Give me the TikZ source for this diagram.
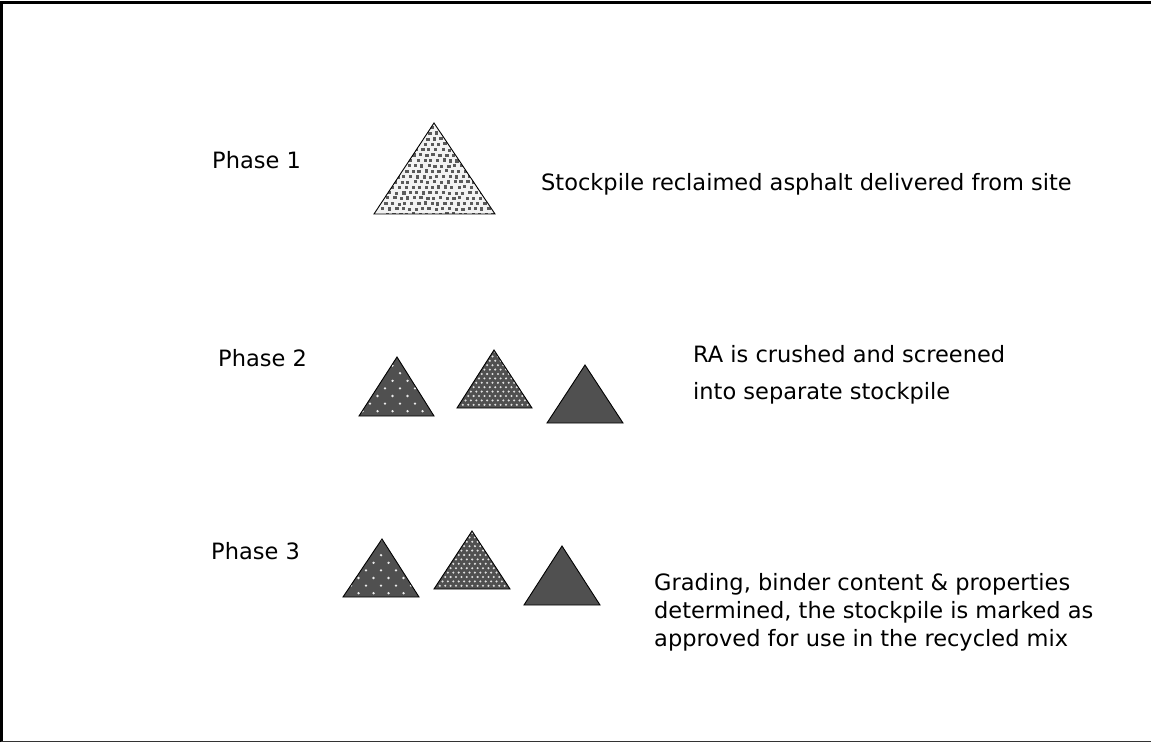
\documentclass[tikz,border=0pt]{standalone}
\usepackage{fontspec}
\setmainfont{DejaVu Sans}
\definecolor{pile}{HTML}{505050}
\definecolor{speck}{HTML}{5A5A5A}
\tikzset{
  lbl/.style={anchor=base west, inner sep=0pt, font=\fontsize{22.5}{28}\selectfont},
  pileedge/.style={draw=black, line width=0.9pt},
  sparsedot/.style={fill=white!92!black},
  densedot/.style={fill=white!88!black},
}
\begin{document}
\begin{tikzpicture}[x=1pt,y=-1pt]
\useasboundingbox (0,0) rectangle (1151,743);
% frame
\draw[line width=2.6pt] (1.3,742) -- (1.3,2.3) -- (1160,2.3);
\draw[line width=1.6pt, draw=black!80] (1.3,741.5) -- (1160,741.5);

% ---------- Phase 1 pile ----------
\coordinate (p1a) at (434,123); \coordinate (p1l) at (374,214); \coordinate (p1r) at (495,214);
\begin{scope}
\clip (p1a) -- (p1l) -- (p1r) -- cycle;
\fill[white!95!black] (370,120) rectangle (500,216);
\pgfmathsetseed{7}
\foreach \r in {0,...,17}{
  \foreach \c in {0,...,20}{
    \pgfmathsetmacro{\xx}{367+\c*6.6+mod(\r,2)*3.3+0.9*\r+rand*0.8}
    \pgfmathsetmacro{\yy}{121+\r*5.4+rand*0.6}
    \fill[speck] (\xx,\yy) rectangle ++(3.3,3.2);
  }
}
\end{scope}
\draw[pileedge] (p1a) -- (p1l) -- (p1r) -- cycle;

% ---------- Phase 2 piles ----------
\coordinate (q1a) at (397,357); \coordinate (q1l) at (359,416); \coordinate (q1r) at (434,416);
\coordinate (q2a) at (494,350); \coordinate (q2l) at (457,408); \coordinate (q2r) at (532,408);
\coordinate (q3a) at (585,365); \coordinate (q3l) at (547,423); \coordinate (q3r) at (623,423);
% sparse dots
\begin{scope}
\clip (q1a) -- (q1l) -- (q1r) -- cycle;
\fill[pile] (355,350) rectangle (440,420);
\foreach \r in {0,...,9}{
  \foreach \c in {0,...,6}{
    \pgfmathsetmacro{\xx}{355+\c*15+mod(\r,2)*7.5}
    \pgfmathsetmacro{\yy}{358+\r*7.6}
    \fill[sparsedot] (\xx,\yy) circle (1.3);
  }
}
\end{scope}
\draw[pileedge] (q1a) -- (q1l) -- (q1r) -- cycle;
% dense dots
\begin{scope}
\clip (q2a) -- (q2l) -- (q2r) -- cycle;
\fill[pile] (450,345) rectangle (540,412);
\foreach \r in {0,...,13}{
  \foreach \c in {0,...,17}{
    \pgfmathsetmacro{\xx}{452+\c*5.4+mod(\r,2)*2.7}
    \pgfmathsetmacro{\yy}{352+\r*4.4}
    \fill[densedot] (\xx,\yy) circle (1.15);
  }
}
\end{scope}
\draw[pileedge] (q2a) -- (q2l) -- (q2r) -- cycle;
% solid
\draw[pileedge, fill=pile] (q3a) -- (q3l) -- (q3r) -- cycle;

% ---------- Phase 3 piles ----------
\coordinate (s1a) at (382,539); \coordinate (s1l) at (343,597); \coordinate (s1r) at (419,597);
\coordinate (s2a) at (472,531); \coordinate (s2l) at (434,589); \coordinate (s2r) at (510,589);
\coordinate (s3a) at (562,546); \coordinate (s3l) at (524,605); \coordinate (s3r) at (600,605);
\begin{scope}
\clip (s1a) -- (s1l) -- (s1r) -- cycle;
\fill[pile] (340,535) rectangle (425,600);
\foreach \r in {0,...,9}{
  \foreach \c in {0,...,6}{
    \pgfmathsetmacro{\xx}{336+\c*15+mod(\r,2)*7.5}
    \pgfmathsetmacro{\yy}{540+\r*7.6}
    \fill[sparsedot] (\xx,\yy) circle (1.3);
  }
}
\end{scope}
\draw[pileedge] (s1a) -- (s1l) -- (s1r) -- cycle;
\begin{scope}
\clip (s2a) -- (s2l) -- (s2r) -- cycle;
\fill[pile] (430,526) rectangle (515,593);
\foreach \r in {0,...,13}{
  \foreach \c in {0,...,17}{
    \pgfmathsetmacro{\xx}{429+\c*5.4+mod(\r,2)*2.7}
    \pgfmathsetmacro{\yy}{533+\r*4.4}
    \fill[densedot] (\xx,\yy) circle (1.15);
  }
}
\end{scope}
\draw[pileedge] (s2a) -- (s2l) -- (s2r) -- cycle;
\draw[pileedge, fill=pile] (s3a) -- (s3l) -- (s3r) -- cycle;

% ---------- labels ----------
\node[lbl] (ph1) at (212,169) {Phase 1};
\node[lbl] (ph2) at (218,366) {Phase 2};
\node[lbl] (ph3) at (211,559) {Phase 3};
\node[lbl] (t1) at (541,191) {Stockpile reclaimed asphalt delivered from site};
\node[lbl] (t2a) at (693,362) {RA is crushed and screened};
\node[lbl] (t2b) at (693,399) {into separate stockpile};
\node[lbl] (t3a) at (654,590) {Grading, binder content \& properties};
\node[lbl] (t3b) at (654,618) {determined, the stockpile is marked as};
\node[lbl] (t3c) at (654,646) {approved for use in the recycled mix};
\end{tikzpicture}
\end{document}
